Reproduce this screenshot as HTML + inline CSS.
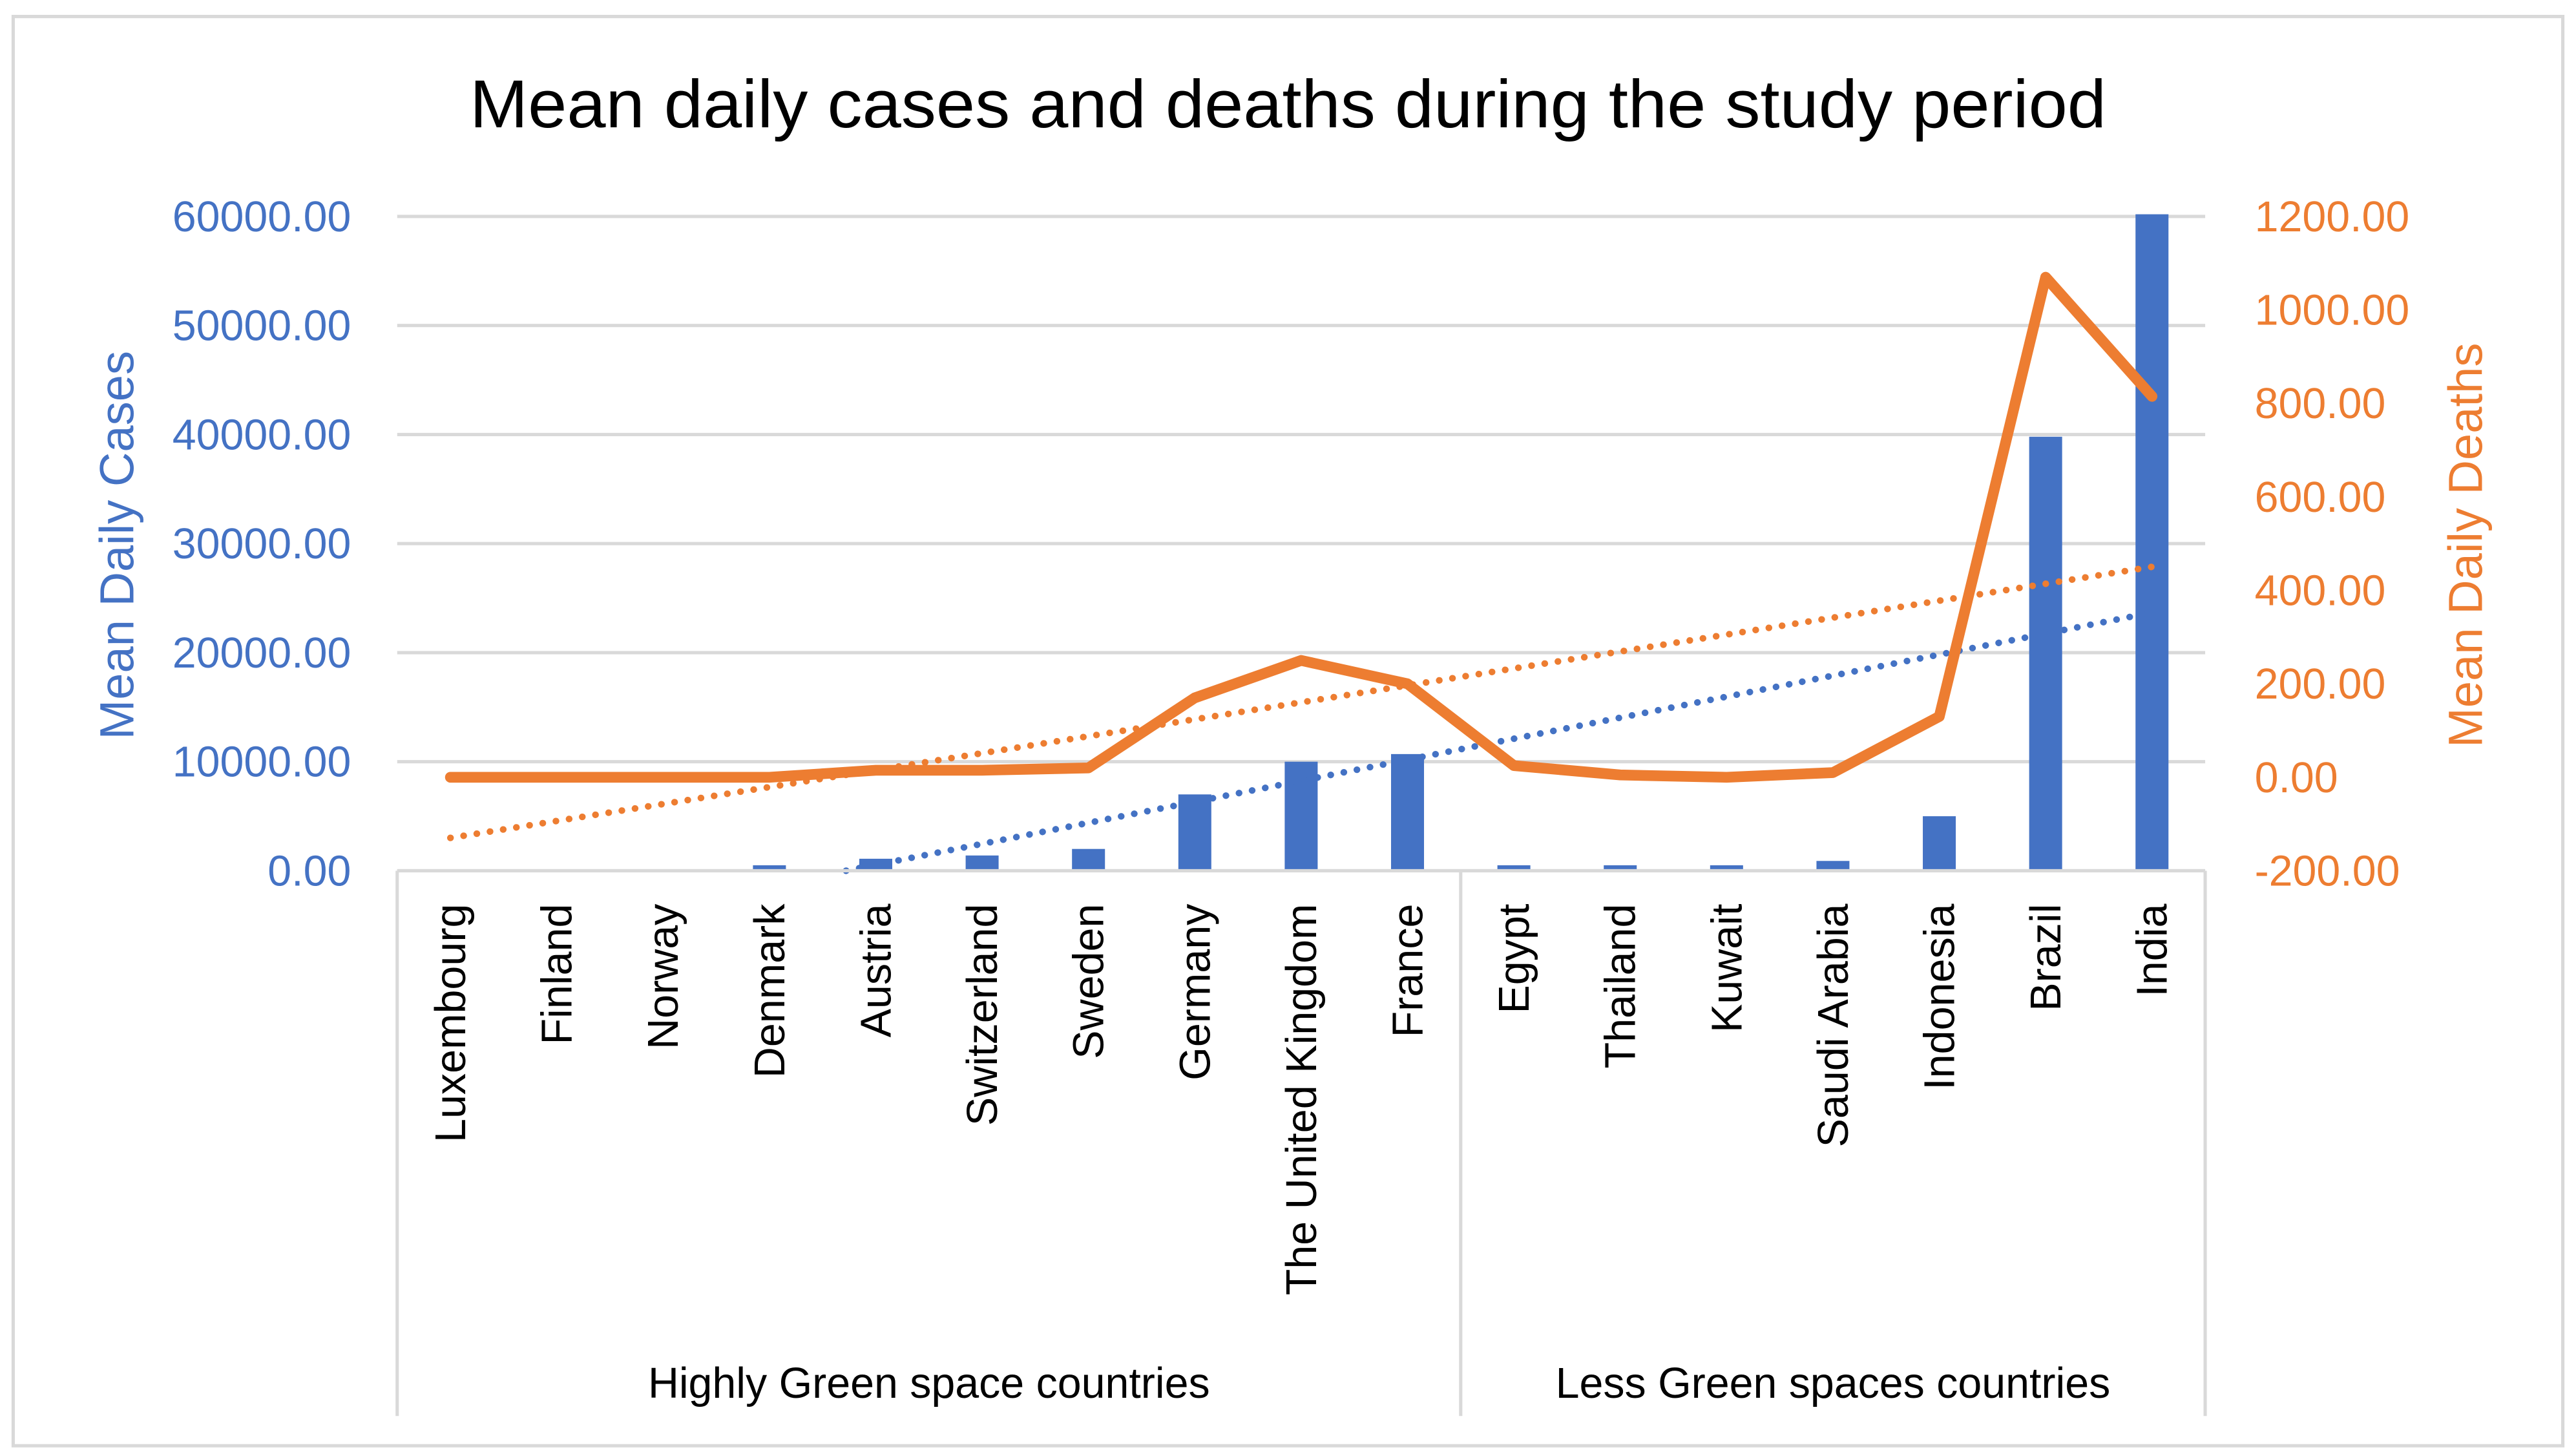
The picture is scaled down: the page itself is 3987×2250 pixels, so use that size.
<!DOCTYPE html>
<html><head><meta charset="utf-8"><style>
html,body{margin:0;padding:0;background:#fff;}
svg{display:block;}
text{font-family:"Liberation Sans",sans-serif;}
</style></head><body>
<svg id="chart" width="3987" height="2250" viewBox="0 0 1563 880" preserveAspectRatio="none" xmlns="http://www.w3.org/2000/svg">
<rect x="8" y="10" width="1547" height="865" fill="#fff" stroke="#d9d9d9" stroke-width="2"/>
<text x="285" y="77" font-size="41" textLength="993" lengthAdjust="spacingAndGlyphs" fill="#000">Mean daily cases and deaths during the study period</text>
<g id="grid"></g>
<g id="bars"></g>
<g id="trends"></g>
<g id="lines"></g>
<g id="axes"></g>
<text transform="translate(81,330) rotate(-90)" font-size="29" text-anchor="middle" fill="#4472C4">Mean Daily Cases</text>
<text transform="translate(1506,330) rotate(-90)" font-size="29" text-anchor="middle" fill="#ED7D31">Mean Daily Deaths</text>
</svg>
<script>
const categories=["Luxembourg","Finland","Norway","Denmark","Austria","Switzerland","Sweden","Germany","The United Kingdom","France","Egypt","Thailand","Kuwait","Saudi Arabia","Indonesia","Brazil","India"];
const cases=[60,50,60,500,1100,1400,2000,7000,10000,10700,500,500,500,900,5000,39800,60200];
const deaths=[0,0,0,0,15,15,20,170,250,200,25,5,0,10,130,1070,815];
const leftTicks=[0,10000,20000,30000,40000,50000,60000];
const rightTicks=[-200,0,200,400,600,800,1000,1200];
const groups=["Highly Green space countries","Less Green spaces countries"];
const groupSizes=[10,7];

const NS="http://www.w3.org/2000/svg";
const X0=241,X1=1338,YT=131,YB=527;
const bw=(X1-X0)/categories.length;
const xC=i=>X0+bw*(i+0.5);
const yL=v=>YB-(v-0)/(60000)*(YB-YT);
const yR=v=>YB-(v+200)/(1400)*(YB-YT);
function mk(tag,attrs,parent,txt){const e=document.createElementNS(NS,tag);for(const k in attrs)e.setAttribute(k,attrs[k]);if(txt!==undefined)e.textContent=txt;document.getElementById(parent).appendChild(e);return e;}

leftTicks.forEach((t,i)=>{
  const g=mk('line',{x1:X0,x2:X1,y1:yL(t),y2:yL(t),stroke:'#d9d9d9','stroke-width':2},'grid');
  
  
  const l=mk('text',{x:213,y:yL(t)+9,'font-size':26,'text-anchor':'end',fill:'#4472C4'},'axes',t.toFixed(2));
  
  
});
rightTicks.forEach(t=>{
  const l=mk('text',{x:1368,y:yR(t)+9,'font-size':26,'text-anchor':'start',fill:'#ED7D31'},'axes',t.toFixed(2));
  
  
});
cases.forEach((v,i)=>{
  const r=mk('rect',{x:xC(i)-10,y:yL(v),width:20,height:YB-yL(v),fill:'#4472C4'},'bars');
  
  
});
function reg(arr){const n=arr.length;let sx=0,sy=0,sxy=0,sxx=0;arr.forEach((v,i)=>{const x=i+1;sx+=x;sy+=v;sxy+=x*v;sxx+=x*x;});const b=(n*sxy-sx*sy)/(n*sxx-sx*sx);return [b,(sy-b*sx)/n];}
(function(){const [b,a]=reg(cases);const n=cases.length;let x0=1;if(a+b*1<0)x0=-a/b;
 const xp=v=>X0+bw*(v-0.5);
 const t=mk('line',{x1:xp(x0),y1:yL(a+b*x0),x2:xp(n),y2:yL(a+b*n),stroke:'#4472C4','stroke-width':4,'stroke-dasharray':'0.1 8','stroke-linecap':'round'},'trends');
 
 })();
(function(){const [b,a]=reg(deaths);const n=deaths.length;const xp=v=>X0+bw*(v-0.5);
 const t=mk('line',{x1:xp(1),y1:yR(a+b),x2:xp(n),y2:yR(a+b*n),stroke:'#ED7D31','stroke-width':4,'stroke-dasharray':'0.1 8','stroke-linecap':'round'},'trends');
 
 })();
const pl=mk('polyline',{points:deaths.map((v,i)=>xC(i)+','+yR(v)).join(' '),fill:'none',stroke:'#ED7D31','stroke-width':6.5,'stroke-linejoin':'round','stroke-linecap':'round'},'lines');


const ax=mk('line',{x1:X0,x2:X1,y1:YB,y2:YB,stroke:'#d9d9d9','stroke-width':2},'axes');


let start=0;
[0].concat(groupSizes.map((s,i)=>groupSizes.slice(0,i+1).reduce((a,b)=>a+b,0))).forEach(k=>{
  const s=mk('line',{x1:X0+bw*k,x2:X0+bw*k,y1:YB,y2:857,stroke:'#d9d9d9','stroke-width':2},'axes');
  
  
});
groups.forEach((g,gi)=>{
  const cx=X0+bw*(start+groupSizes[gi]/2);
  const t=mk('text',{x:cx,y:846,'font-size':26,'text-anchor':'middle',fill:'#000'},'axes',g);
  
  
  start+=groupSizes[gi];
});
categories.forEach((c,i)=>{
  const t=mk('text',{transform:'translate('+(xC(i)+9)+',547) rotate(-90)','font-size':26,'text-anchor':'end',fill:'#000'},'axes',c);
  
  
});
</script>
</body></html>
